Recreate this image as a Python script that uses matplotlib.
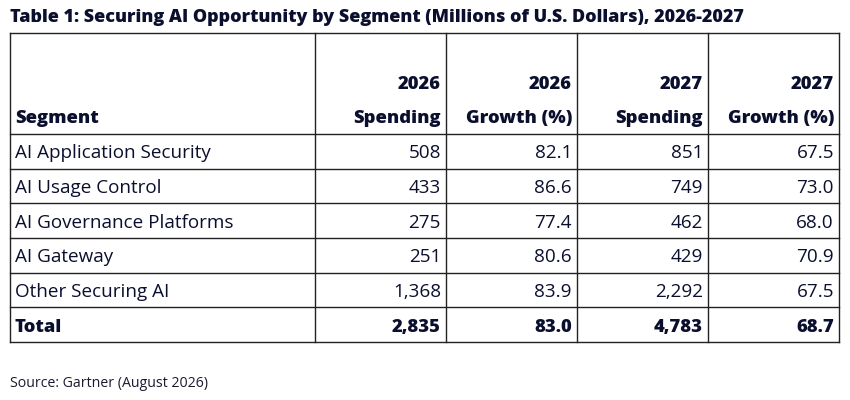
import matplotlib.pyplot as plt

segments = ["AI Application Security", "AI Usage Control", "AI Governance Platforms",
            "AI Gateway", "Other Securing AI"]
spend_2026 = ["508", "433", "275", "251", "1,368"]
growth_2026 = ["82.1", "86.6", "77.4", "80.6", "83.9"]
spend_2027 = ["851", "749", "462", "429", "2,292"]
growth_2027 = ["67.5", "73.0", "68.0", "70.9", "67.5"]
total_row = ["Total", "2,835", "83.0", "4,783", "68.7"]
header_top = ["", "2026", "2026", "2027", "2027"]
header_bot = ["Segment", "Spending", "Growth (%)", "Spending", "Growth (%)"]

title = "Table 1: Securing AI Opportunity by Segment (Millions of U.S. Dollars), 2026-2027"
source = "Source: Gartner (August 2026)"

plt.rcParams["font.family"] = ["Open Sans", "DejaVu Sans"]
ink = "#0b0f2e"

fig = plt.figure(figsize=(8.5, 4), dpi=100)
ax = fig.add_axes([0, 0, 1, 1])
ax.set_xlim(0, 850)
ax.set_ylim(400, 0)
ax.axis("off")

col_x = [10, 315, 446, 577, 708, 839]
top, head_bot, bottom = 33, 134, 342
n_rows = len(segments) + 1
row_h = (bottom - head_bot) / n_rows
row_y = [head_bot + i * row_h for i in range(n_rows + 1)]

# grid
for x in col_x:
    ax.plot([x, x], [top, bottom], color="#222222", lw=1.0)
for y in [top] + row_y:
    ax.plot([col_x[0], col_x[-1]], [y, y], color="#222222", lw=1.0)

fs = 13.6
fs_b = 13.2
bold = "extra bold"

# header (baselines)
for j in range(5):
    if j == 0:
        ax.text(col_x[0] + 5, 123, header_bot[j], ha="left", va="baseline",
                fontsize=fs_b, fontweight=bold, color=ink)
    else:
        ax.text(col_x[j + 1] - 5, 89, header_top[j], ha="right", va="baseline",
                fontsize=fs_b, fontweight=bold, color=ink)
        ax.text(col_x[j + 1] - 5, 123, header_bot[j], ha="right", va="baseline",
                fontsize=fs_b, fontweight=bold, color=ink)

rows = [list(r) for r in zip(segments, spend_2026, growth_2026, spend_2027, growth_2027)]
rows.append(total_row)
for i, r in enumerate(rows):
    yb = (row_y[i] + row_y[i + 1]) / 2 + 7
    last = i == len(rows) - 1
    wt = bold if last else "normal"
    size = fs_b if last else fs
    ax.text(col_x[0] + 5, yb, r[0], ha="left", va="baseline", fontsize=size,
            fontweight=wt, color=ink)
    for j in range(1, 5):
        ax.text(col_x[j + 1] - 5, yb, r[j], ha="right", va="baseline", fontsize=size,
                fontweight=wt, color=ink)

ax.text(10, 21.5, title, ha="left", va="baseline", fontsize=12.95, fontweight=bold, color=ink)
ax.text(10, 387, source, ha="left", va="baseline", fontsize=10.2, color="#1a1a2e")

fig.savefig("out.png", dpi=100)
